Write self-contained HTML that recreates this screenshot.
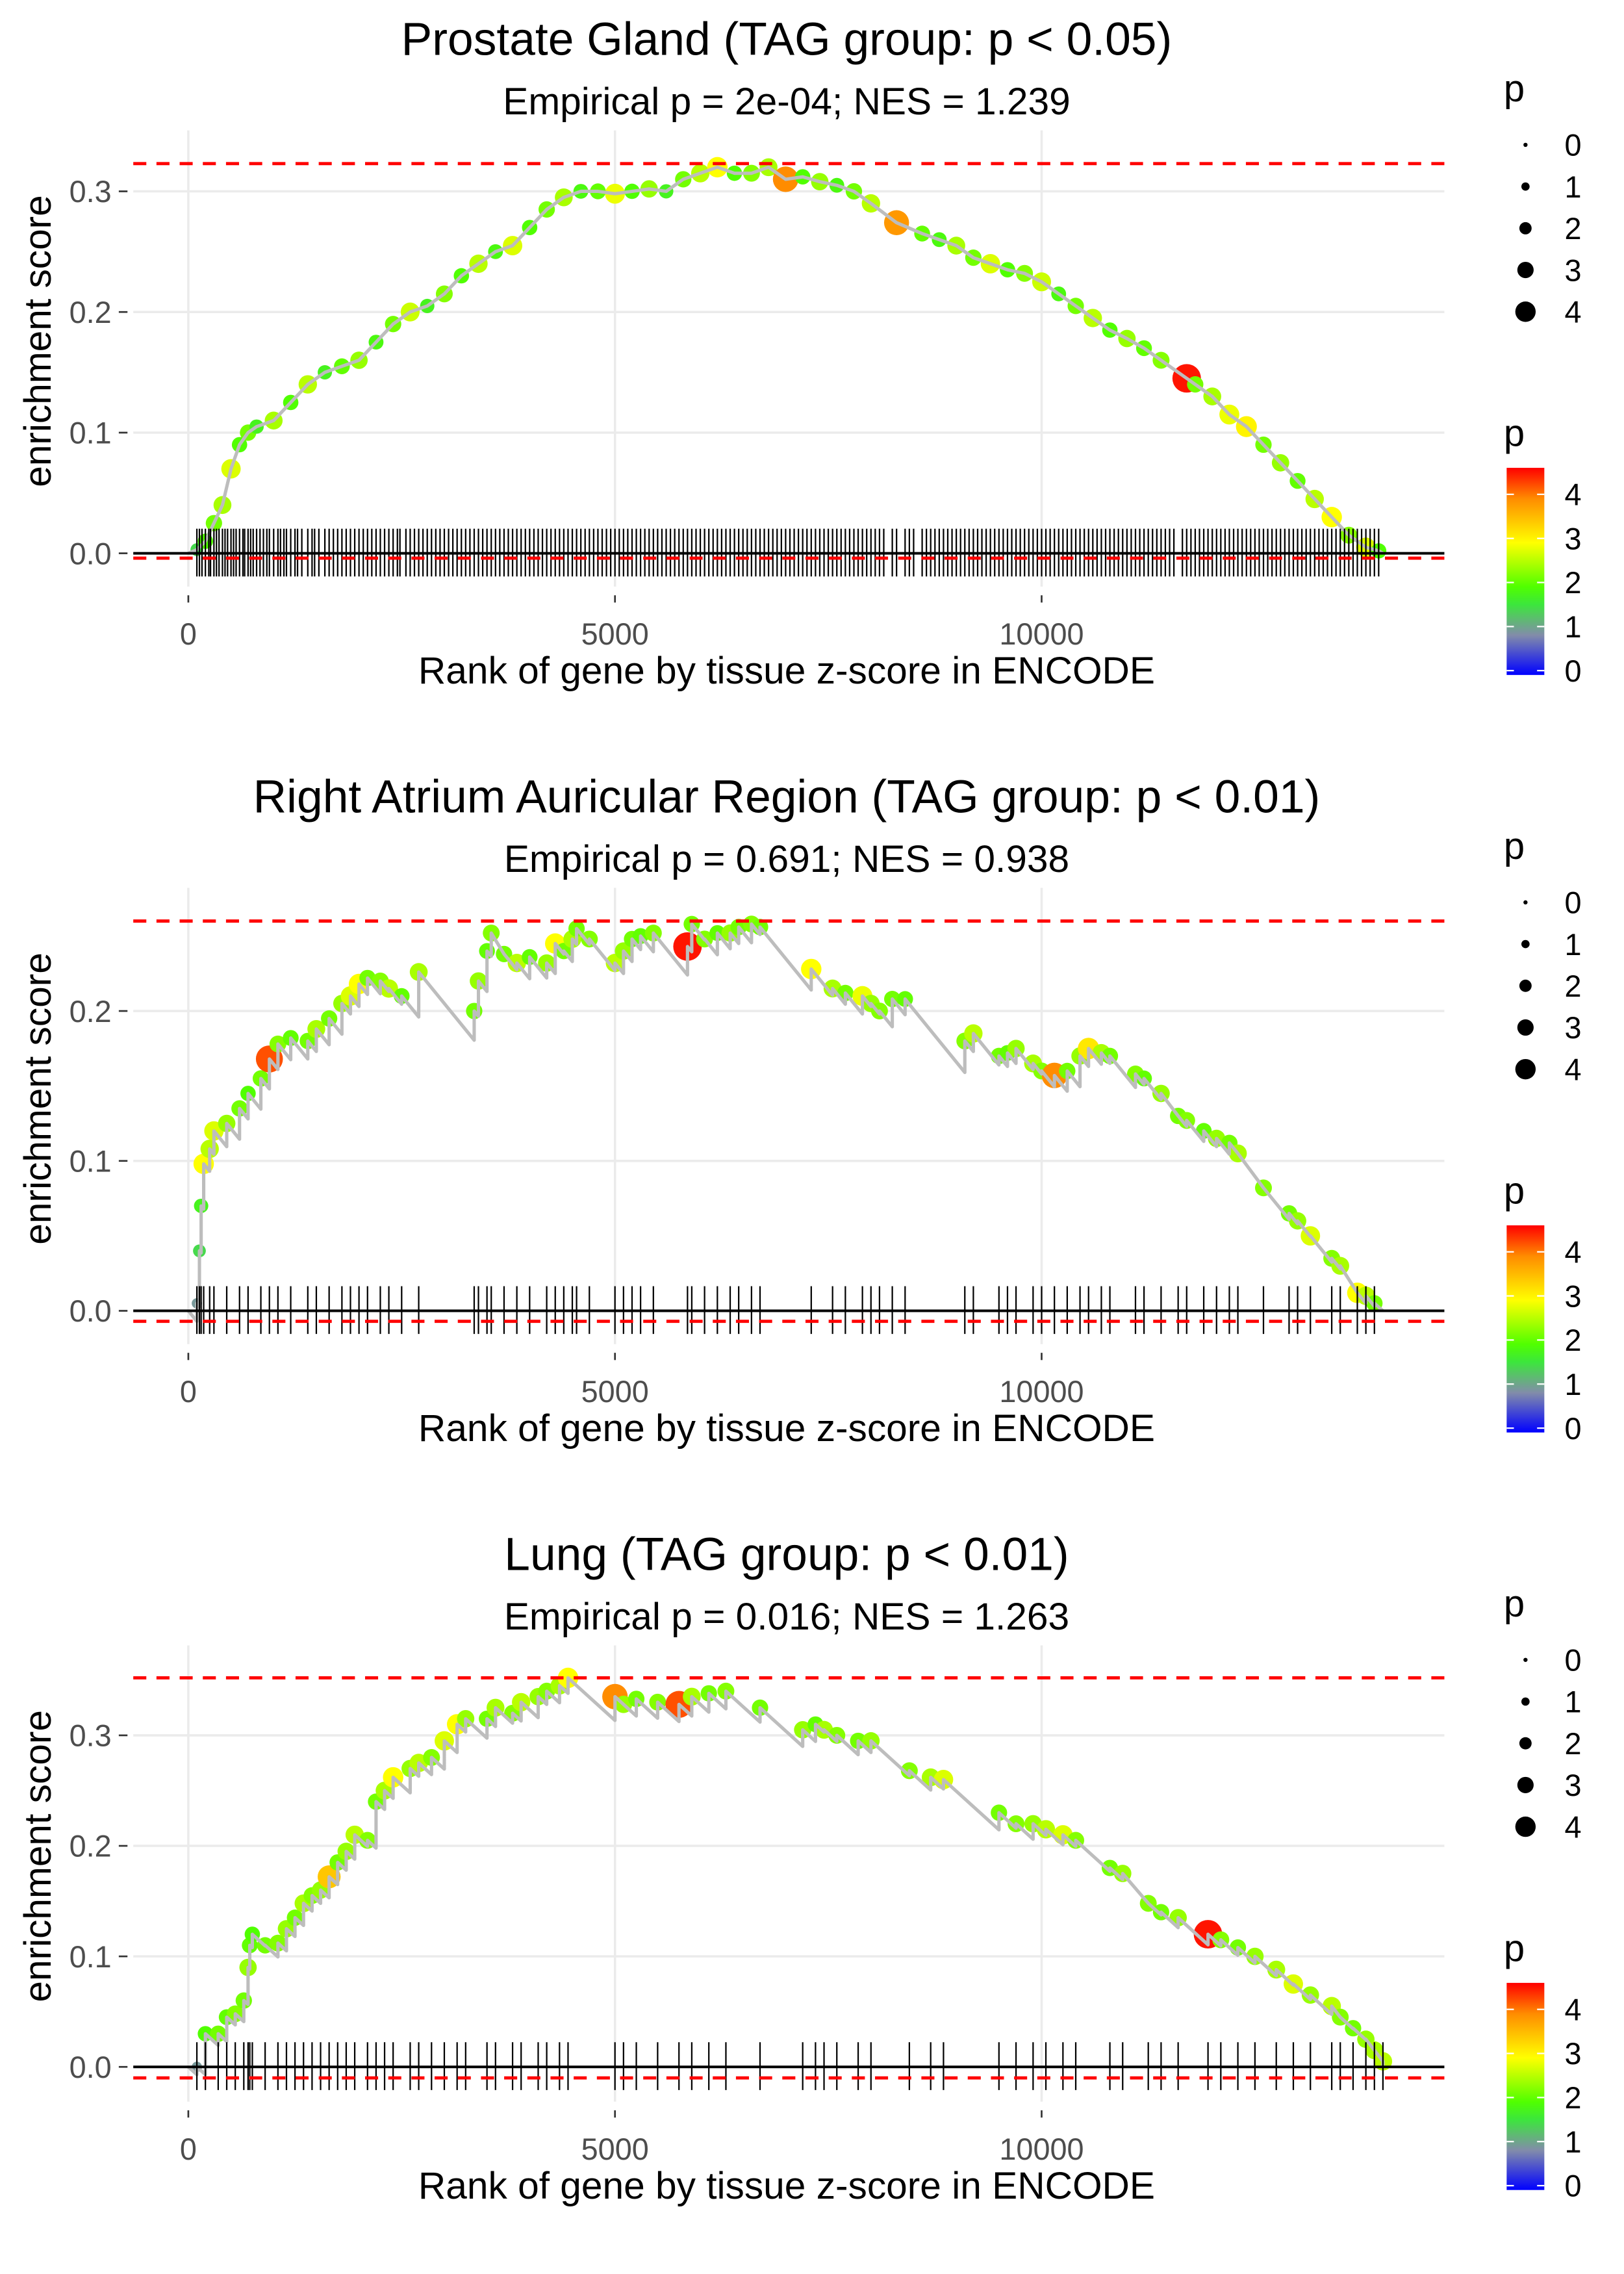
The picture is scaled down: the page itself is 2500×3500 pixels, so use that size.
<!DOCTYPE html>
<html><head><meta charset="utf-8"><style>
html,body{margin:0;padding:0;background:#fff}
svg{display:block}
text{font-family:"Liberation Sans",sans-serif}
</style></head><body>
<svg id="chart" xmlns="http://www.w3.org/2000/svg" width="2500" height="3500" viewBox="0 0 1121 1570" preserveAspectRatio="none"></svg>
<script>
// ---- data ----
const titles = ["Prostate Gland (TAG group: p < 0.05)","Right Atrium Auricular Region (TAG group: p < 0.01)","Lung (TAG group: p < 0.01)"];
const subtitles = ["Empirical p = 2e-04; NES = 1.239","Empirical p = 0.691; NES = 0.938","Empirical p = 0.016; NES = 1.263"];
const xTicks = [0,5000,10000];
const yTicks1 = [0,0.1,0.2,0.3];
const yTicks2 = [0,0.1,0.2];
const yTicks3 = [0,0.1,0.2,0.3];
const dashHi = [0.323,0.26,0.352];
const dashLo = [-0.004,-0.007,-0.01];
const ranks1 = [100,200,300,400,500,600,700,800,1000,1200,1400,1600,1800,2000,2200,2400,2600,2800,3000,3200,3400,3600,3800,4000,4200,4400,4600,4800,5000,5200,5400,5600,5800,6000,6200,6400,6600,6800,7000,7200,7400,7600,7800,8000,8300,8600,8800,9000,9200,9400,9600,9800,10000,10200,10400,10600,10800,11000,11200,11400,11700,11800,12000,12200,12400,12600,12800,13000,13200,13400,13600,13800,13950];
const es1 = [0.003,0.01,0.025,0.04,0.07,0.09,0.1,0.105,0.11,0.125,0.14,0.15,0.155,0.16,0.175,0.19,0.2,0.205,0.215,0.23,0.24,0.25,0.255,0.27,0.285,0.295,0.3,0.3,0.298,0.3,0.302,0.3,0.31,0.315,0.32,0.315,0.315,0.32,0.31,0.312,0.308,0.305,0.3,0.29,0.274,0.265,0.26,0.255,0.245,0.24,0.235,0.232,0.225,0.215,0.205,0.195,0.185,0.178,0.17,0.16,0.145,0.14,0.13,0.115,0.105,0.09,0.075,0.06,0.045,0.03,0.015,0.005,0.002];
const p1 = [1.5,2,2.2,2.5,2.8,2,2.2,1.8,2.5,2,2.6,1.8,2.1,2.4,1.9,2.2,2.7,1.8,2.3,2,2.6,1.9,2.8,2,2.2,2.5,1.9,2.1,2.9,2,2.4,1.8,2.2,2.6,3,2,2.3,2.5,4,2,2.4,1.9,2.2,2.6,3.9,2.1,1.9,2.5,2.2,2.8,2,2.3,2.7,1.9,2.2,2.6,2,2.4,2.1,2.3,4.6,2.2,2.5,2.9,3.1,2.2,2.4,2.1,2.6,3,2.3,2.8,2];
const extraRug1 = [130,160,240,260,330,360,430,460,530,560,640,660,730,760,840,880,920,950,1050,1080,1120,1150,1250,1280,1330,1450,1480,1530,1650,1700,1750,1850,1900,1950,2050,2100,2150,2250,2300,2350,2450,2480,2550,2650,2700,2750,2850,2900,2950,3050,3100,3150,3250,3300,3350,3450,3500,3550,3650,3700,3750,3850,3900,3950,4050,4100,4150,4250,4300,4350,4450,4500,4550,4650,4700,4750,4850,4900,4950,5050,5100,5150,5250,5300,5350,5450,5500,5550,5650,5700,5750,5850,5900,5950,6050,6100,6150,6250,6300,6350,6450,6500,6550,6650,6700,6750,6850,6900,6950,7050,7100,7150,7250,7300,7350,7450,7500,7550,7650,7700,7750,7850,7900,7950,8050,8100,8150,8250,8400,8450,8500,8650,8700,8750,8850,8900,8950,9050,9100,9150,9250,9300,9350,9450,9500,9550,9650,9700,9750,9850,9900,9950,10050,10100,10150,10250,10300,10350,10450,10500,10550,10650,10700,10750,10850,10900,10950,11050,11100,11150,11250,11300,11350,11450,11500,11550,11650,11750,11850,11900,11950,12050,12100,12150,12250,12300,12350,12450,12500,12550,12650,12700,12750,12850,12900,12950,13050,13100,13150,13250,13300,13350,13450,13500,13550,13650,13700,13750,13850,13900];
const ranks2 = [100,130,150,180,250,300,450,600,700,850,950,1050,1200,1400,1500,1650,1800,1900,2000,2100,2250,2350,2500,2700,3350,3400,3500,3550,3700,3850,4000,4200,4300,4400,4500,4550,4700,5000,5100,5200,5300,5450,5850,5900,6050,6200,6350,6450,6600,6700,7300,7550,7700,7900,8000,8100,8250,8400,9100,9200,9500,9600,9700,9900,10000,10150,10300,10450,10550,10700,10800,11100,11200,11400,11600,11700,11900,12050,12200,12300,12600,12900,13000,13150,13400,13500,13700,13800,13900];
const es2 = [0.005,0.04,0.07,0.098,0.108,0.12,0.125,0.135,0.145,0.155,0.168,0.178,0.182,0.18,0.188,0.195,0.205,0.21,0.218,0.222,0.22,0.215,0.21,0.226,0.2,0.22,0.24,0.252,0.238,0.232,0.236,0.232,0.245,0.24,0.248,0.255,0.248,0.232,0.24,0.248,0.25,0.252,0.243,0.258,0.248,0.252,0.252,0.256,0.258,0.256,0.228,0.215,0.212,0.21,0.205,0.2,0.208,0.208,0.18,0.185,0.17,0.172,0.175,0.165,0.16,0.157,0.16,0.17,0.175,0.172,0.17,0.158,0.155,0.145,0.13,0.127,0.12,0.115,0.112,0.105,0.082,0.065,0.06,0.05,0.035,0.03,0.012,0.01,0.005];
const p2 = [1,1.5,1.8,3,2.6,2.8,2.4,2.2,2,2.2,4.3,2.3,2.1,2.2,2.5,2.2,2.4,2.8,3,2.2,2.3,2.6,2.1,2.5,2.2,2.4,2.1,2.3,2.2,2.6,2.1,2.4,3,2.2,2.5,2.2,2.3,2.6,2.4,2.2,2.1,2.3,4.6,2.2,2.3,2.1,2.4,2.2,2.3,2.2,3,2.5,2.2,2.9,2.4,2.3,2.2,2.1,2.3,2.6,2.2,2.1,2.4,2.5,2.3,4,2.2,2.4,3.2,2.5,2.2,2.3,2.1,2.4,2.2,2.3,2.1,2.4,2.2,2.5,2.3,2.2,2.4,2.8,2.3,2.5,3,2.6,2.2];
const ranks3 = [100,200,350,450,550,650,700,720,750,900,1050,1150,1250,1350,1450,1550,1650,1750,1850,1950,2100,2200,2300,2400,2600,2700,2850,3000,3150,3250,3500,3600,3800,3900,4100,4200,4350,4450,5000,5100,5250,5500,5750,5900,6100,6300,6700,7200,7350,7450,7600,7850,8000,8450,8700,8850,9500,9700,9900,10050,10250,10400,10800,10950,11250,11400,11600,11950,12100,12300,12500,12750,12950,13150,13400,13500,13650,13800,13900,14000];
const es3 = [0,0.03,0.03,0.045,0.048,0.06,0.09,0.11,0.12,0.11,0.112,0.125,0.135,0.148,0.155,0.16,0.172,0.185,0.195,0.21,0.205,0.24,0.25,0.262,0.27,0.275,0.28,0.295,0.31,0.315,0.315,0.325,0.32,0.33,0.335,0.34,0.345,0.352,0.335,0.328,0.333,0.33,0.328,0.335,0.338,0.34,0.325,0.305,0.31,0.305,0.3,0.295,0.295,0.268,0.262,0.26,0.23,0.22,0.22,0.215,0.21,0.205,0.18,0.175,0.148,0.14,0.135,0.12,0.115,0.108,0.1,0.088,0.075,0.065,0.055,0.045,0.035,0.025,0.015,0.005];
const p3 = [1,2,2.2,2.1,2.3,2.2,2.4,2.1,2,2.2,2.3,2.4,2.2,2.5,2.3,2.4,3.5,2.2,2.4,2.6,2.3,2.2,2.5,3,2.4,2.6,2.3,2.8,3,2.4,2.2,2.5,2.3,2.6,2.4,2.3,2.5,3,4,2.4,2.2,2.3,4.3,2.5,2.2,2.3,2.2,2.4,2.1,2.5,2.3,2.2,2.4,2.3,2.5,2.8,2.2,2.3,2.4,2.6,2.8,2.3,2.2,2.4,2.3,2.2,2.4,4.6,2.3,2.2,2.4,2.5,2.8,2.4,2.6,2.3,2.2,2.4,2.5,2.6];
const panels = [[ranks1,es1,p1,yTicks1,extraRug1],[ranks2,es2,p2,yTicks2,[]],[ranks3,es3,p3,yTicks3,[]]];
const zeroY = [382,905,1427];
const unitPx = [833,1035,763];
const sawtooth = [false,true,true];

const NS="http://www.w3.org/2000/svg";
const svg=document.getElementById('chart');
function el(tag,attrs,parent,txt){const e=document.createElementNS(NS,tag);for(const k in attrs)e.setAttribute(k,attrs[k]);if(txt!==undefined)e.textContent=txt;(parent||svg).appendChild(e);return e;}
const stops=[[0,[0,0,255]],[0.9,[130,140,170]],[1.6,[60,230,60]],[2,[80,255,0]],[3,[255,255,0]],[4,[255,140,0]],[4.7,[255,0,0]]];
function col(p){p=Math.max(0,Math.min(4.7,p));for(let i=1;i<stops.length;i++){if(p<=stops[i][0]){const a=stops[i-1],b=stops[i],t=(p-a[0])/(b[0]-a[0]);const c=a[1].map((v,j)=>Math.round(v+(b[1][j]-v)*t));return `rgb(${c.join(',')})`;}}return 'rgb(255,0,0)';}
function rad(p){return 1.8+1.75*p;}
const xL=92,xR=997;
function xs(r){return 130+r*0.0589;}

panels.forEach((pd,k)=>{
  const [ranks,es,ps,yt,extra]=pd; const off=k*523;
  const ys=v=>zeroY[k]-v*unitPx[k];
  const g=el('g',{},svg);  
  const t=el('text',{x:543,y:38+off,'font-size':32,'text-anchor':'middle'},g,titles[k]);
   
  const st=el('text',{x:543,y:79+off,'font-size':26.3,'text-anchor':'middle'},g,subtitles[k]);
   
  const top=90+off, bot=405+off;
  xTicks.forEach(v=>{const gl=el('line',{x1:xs(v),x2:xs(v),y1:top,y2:bot,stroke:'#ebebeb','stroke-width':1.6},g);
    el('line',{x1:xs(v),x2:xs(v),y1:bot+6,y2:bot+11,stroke:'#333','stroke-width':1.2},g);
    const tl=el('text',{x:xs(v),y:445+off,'font-size':21,'text-anchor':'middle',fill:'#4d4d4d'},g,String(v));});
  yt.forEach(v=>{const gl=el('line',{x1:xL,x2:xR,y1:ys(v),y2:ys(v),stroke:'#ebebeb','stroke-width':1.6},g);
    el('line',{x1:82,x2:88,y1:ys(v),y2:ys(v),stroke:'#333','stroke-width':1.2},g);
    const tl=el('text',{x:77,y:ys(v)+7.5,'font-size':21,'text-anchor':'end',fill:'#4d4d4d'},g,v.toFixed(1));});
  const yt2=el('text',{transform:`translate(35,${(top+bot)/2-12}) rotate(-90)`,'font-size':26.3,'text-anchor':'middle'},g,'enrichment score');
   
  const xt=el('text',{x:543,y:472+off,'font-size':26.3,'text-anchor':'middle'},g,'Rank of gene by tissue z-score in ENCODE');
   
  // points
  ranks.forEach((r,i)=>{const c=el('circle',{cx:xs(r),cy:ys(es[i]),r:rad(ps[i]),fill:col(ps[i])},g);});
  // line
  let dstr=`M${xs(0)},${ys(0)}`; let pr=0,pe=0;
  ranks.forEach((r,i)=>{ if(sawtooth[k]){const pre=pe-(r-pr)*7e-5; if(pre>es[i]){dstr+=` L${xs(r)},${ys(es[i])}`;}else{dstr+=` L${xs(r)},${ys(pre)} L${xs(r)},${ys(es[i])}`;}} else dstr+=` L${xs(r)},${ys(es[i])}`; pr=r;pe=es[i];});
  dstr+=` L${xs(14000)},${ys(0)}`;
  const ln=el('path',{d:dstr,fill:'none',stroke:'#bdbdbd','stroke-width':2.3,'stroke-linejoin':'round'},g);
  // rug
  ranks.concat(extra).forEach(r=>{const l=el('line',{x1:xs(r),x2:xs(r),y1:zeroY[k]-17,y2:zeroY[k]+16,stroke:'#000','stroke-width':1},g);});
  const z=el('line',{x1:xL,x2:xR,y1:zeroY[k],y2:zeroY[k],stroke:'#000','stroke-width':1.8},g);
  [dashHi[k],dashLo[k]].forEach(v=>{const d=el('line',{x1:xL,x2:xR,y1:ys(v),y2:ys(v),stroke:'#ff0000','stroke-width':2.2,'stroke-dasharray':'9,7'},g);});
  // legends
  const lg=el('g',{},svg);  
  el('text',{x:1038,y:70+off,'font-size':26},lg,'p');
  [0,1,2,3,4].forEach((v,i)=>{const y=100+i*28.8+off;const c=el('circle',{cx:1053,cy:y,r:rad(v)*0.8},lg);el('text',{x:1080,y:y+7.5,'font-size':21},lg,String(v));});
  el('text',{x:1038,y:308+off,'font-size':26},lg,'p');
  const gid='grad'+k;
  const gr=el('linearGradient',{id:gid,x1:0,y1:1,x2:0,y2:0},lg);
  stops.forEach(s=>el('stop',{offset:(s[0]/4.7),'stop-color':`rgb(${s[1].join(',')})`},gr));
  const cb=el('rect',{x:1040,y:323+off,width:26,height:143,fill:`url(#${gid})`},lg);
  [0,1,2,3,4].forEach(v=>{const y=466+off-v*(143/4.7)-3;el('line',{x1:1040,x2:1045,y1:y,y2:y,stroke:'#fff'},lg);el('line',{x1:1061,x2:1066,y1:y,y2:y,stroke:'#fff'},lg);el('text',{x:1080,y:y+7.5,'font-size':21},lg,String(v));});
});
</script>
</body></html>
